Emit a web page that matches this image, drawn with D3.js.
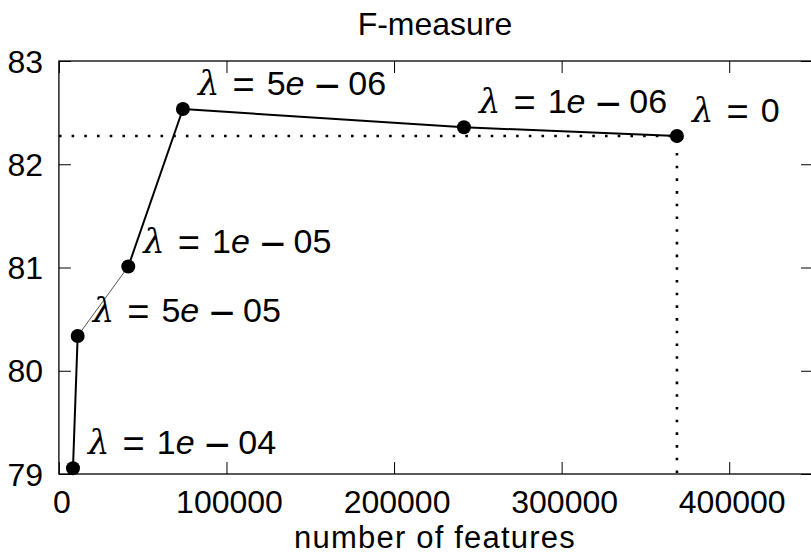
<!DOCTYPE html>
<html>
<head>
<meta charset="utf-8">
<script src="https://cdn.jsdelivr.net/npm/d3@7"></script>
<style>
    body { margin: 0; background: #fff; }
    text { font-family: 'Liberation Sans', sans-serif; fill: #000; }
</style>
</head>
<body>
<svg id="chart" width="811" height="556"></svg>
<script>
// values
const features = [8400, 11200, 41400, 74000, 241700, 368800];
const fmeasure = [79.055, 80.336, 81.009, 82.535, 82.358, 82.274];
const mantissas = ['1', '5', '1', '5', '1', '0'];
const exponents = ['04', '05', '05', '06', '06', null];
const xTicks = [0, 100000, 200000, 300000, 400000];
const yTicks = [79, 80, 81, 82, 83];

const data = features.map((f, i) => ({ x: f, y: fmeasure[i], man: mantissas[i], exp: exponents[i] }));

const svg = d3.select('#chart');
const plotLeft = 58.9, plotRight = 813, plotTop = 61, plotBottom = 474;

const xScale = d3.scaleLinear().domain([0, 450000]).range([plotLeft, plotRight]);
const yScale = d3.scaleLinear().domain([79, 83]).range([plotBottom, plotTop]);

// ticks pointing inward on all four sides
const tickLen = 12;
svg.append('g').call(d3.axisTop(xScale).tickValues(xTicks).tickSize(tickLen).tickFormat(''))
    .attr('transform', `translate(0,${plotBottom})`);
svg.append('g').call(d3.axisBottom(xScale).tickValues(xTicks).tickSize(tickLen).tickFormat(''))
    .attr('transform', `translate(0,${plotTop})`);
svg.append('g').call(d3.axisRight(yScale).tickValues(yTicks).tickSize(tickLen).tickFormat(''))
    .attr('transform', `translate(${plotLeft},0)`);
svg.append('g').call(d3.axisLeft(yScale).tickValues(yTicks).tickSize(tickLen).tickFormat(''))
    .attr('transform', `translate(${plotRight},0)`);
svg.selectAll('.domain').remove();
svg.selectAll('.tick line').attr('stroke', '#000').attr('stroke-width', 1);

// frame
svg.append('rect')
    .attr('x', plotLeft).attr('y', plotTop)
    .attr('width', plotRight - plotLeft).attr('height', plotBottom - plotTop)
    .attr('fill', 'none').attr('stroke', '#000').attr('stroke-width', 1.3);

// tick labels
svg.selectAll('.xlab').data(xTicks).join('text')
    .attr('x', d => xScale(d) + 3).attr('y', 513)
    .attr('text-anchor', 'middle').attr('font-size', 32)
    .text(d => d);
svg.selectAll('.ylab').data(yTicks).join('text')
    .attr('x', 43).attr('y', d => yScale(d))
    .attr('dy', '0.36em')
    .attr('text-anchor', 'end').attr('font-size', 32)
    .text(d => d);

svg.append('text').attr('x', 435).attr('y', 35)
    .attr('text-anchor', 'middle').attr('font-size', 32).text('F-measure');
svg.append('text').attr('x', 435).attr('y', 548)
    .attr('text-anchor', 'middle').attr('font-size', 31)
    .attr('letter-spacing', 1.2).text('number of features');

// dotted guides to the lambda = 0 point
const last = data[data.length - 1];
svg.append('path')
    .attr('d', `M${plotLeft},${yScale(last.y)}H${xScale(last.x)}V${plotBottom}`)
    .attr('fill', 'none').attr('stroke', '#000')
    .attr('stroke-width', 2.6).attr('stroke-dasharray', '2.6 10.1');

// line segments (the second one is drawn thin in the original)
for (let i = 0; i < data.length - 1; i++) {
    svg.append('line')
        .attr('x1', xScale(data[i].x)).attr('y1', yScale(data[i].y))
        .attr('x2', xScale(data[i + 1].x)).attr('y2', yScale(data[i + 1].y))
        .attr('stroke', i === 1 ? '#555' : '#000')
        .attr('stroke-width', i === 1 ? 1 : 2);
}

svg.selectAll('circle').data(data).join('circle')
    .attr('cx', d => xScale(d.x)).attr('cy', d => yScale(d.y))
    .attr('r', 7).attr('fill', '#000');

// lambda labels, spaced like TeX math
const labels = svg.selectAll('.lam').data(data).join('text')
    .attr('x', d => xScale(d.x) + 15).attr('y', d => yScale(d.y) - 14)
    .attr('font-size', 34);
labels.each(function (d) {
    const t = d3.select(this);
    t.append('tspan').attr('font-family', 'DejaVu Serif').attr('font-style', 'italic').text('λ');
    t.append('tspan').attr('dx', 13).attr('dy', 3).attr('font-size', 38).text('=');
    t.append('tspan').attr('dx', 12).attr('dy', -3).text(d.man);
    if (d.exp) {
        t.append('tspan').attr('font-style', 'italic').text('e');
        t.append('tspan').attr('dx', 10).attr('dy', 6).attr('font-size', 44).text('−');
        t.append('tspan').attr('dx', 8).attr('dy', -6).text(d.exp);
    }
});
</script>
</body>
</html>
